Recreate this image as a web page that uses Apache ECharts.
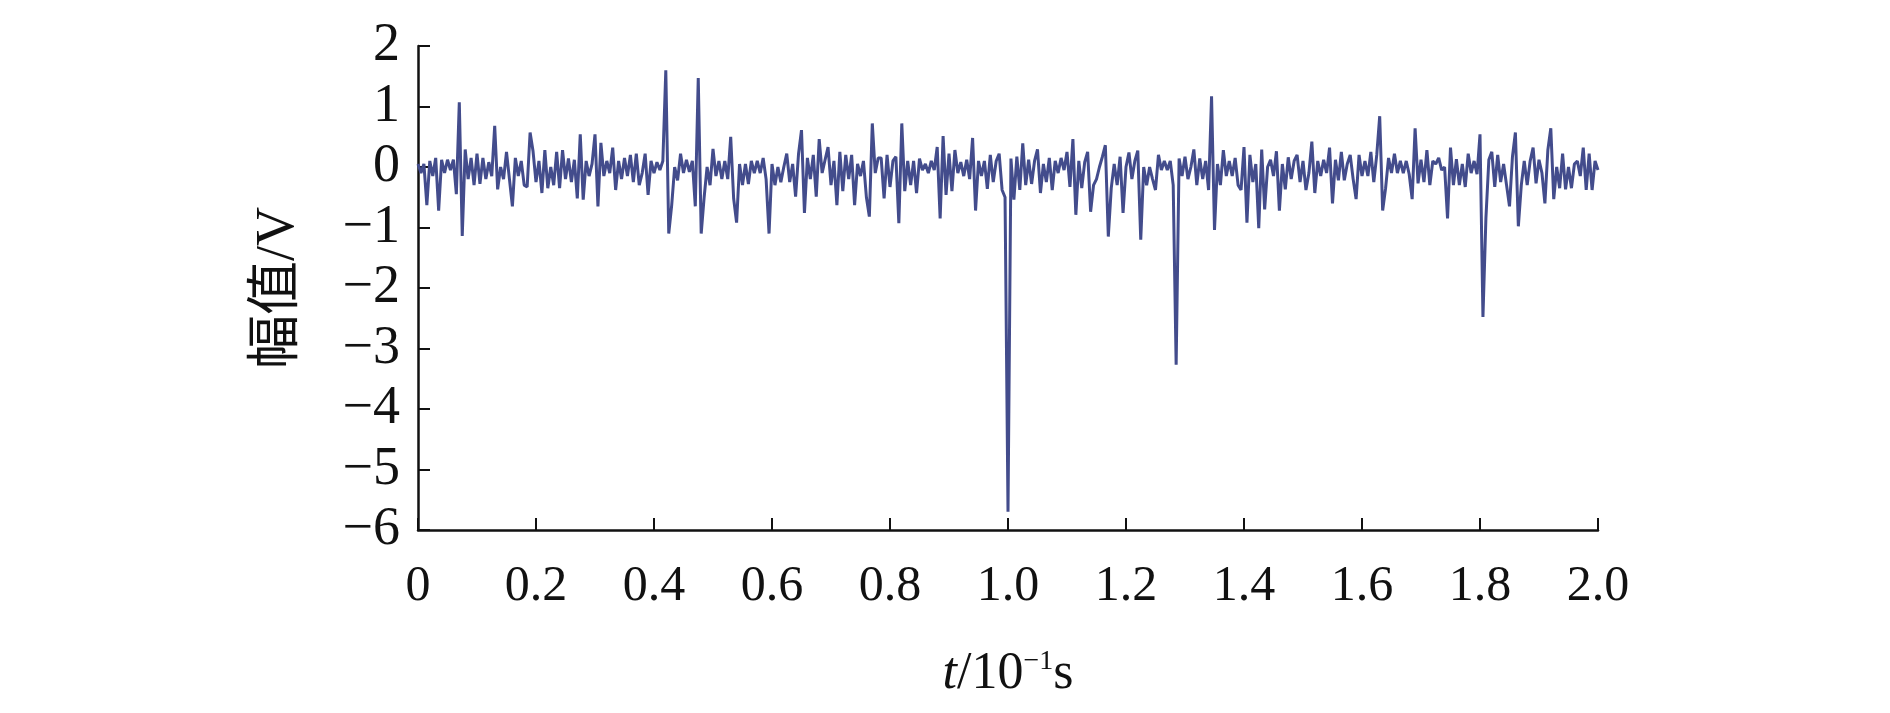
<!DOCTYPE html>
<html>
<head>
<meta charset="utf-8">
<title>幅值</title>
<script src="https://cdn.jsdelivr.net/npm/echarts@6/dist/echarts.min.js"></script>
<style>
  html, body { margin: 0; padding: 0; background: #fff; }
  #signal { width: 1890px; height: 713px; }
</style>
</head>
<body>
<div id="signal"></div>
<script>
// sample step, in units of 10^-1 s
const dt = 0.005
// amplitude in V, one value per sample
const amp = [
  0.05, -0.1, 0.05, -0.63, 0.1, -0.15, 0.15, -0.72, 0.12, -0.1,
  0.12, -0.05, 0.12, -0.45, 1.07, -1.14, 0.29, -0.2, 0.15, -0.3,
  0.22, -0.28, 0.15, -0.2, 0.08, -0.15, 0.68, -0.37, 0.0, -0.2,
  0.25, -0.2, -0.65, 0.15, -0.15, 0.1, -0.3, -0.33, 0.57, 0.26,
  -0.25, 0.1, -0.43, 0.28, -0.35, 0.0, -0.3, 0.25, -0.35, 0.28,
  -0.2, 0.14, -0.25, 0.12, -0.52, 0.54, -0.54, 0.1, -0.15, 0.05,
  0.54, -0.65, 0.4, -0.15, 0.1, -0.1, 0.32, -0.38, 0.1, -0.2,
  0.15, -0.15, 0.2, -0.25, 0.22, -0.3, -0.1, 0.22, -0.46, 0.1,
  -0.1, 0.08, -0.05, 0.1, 1.6, -1.1, -0.63, 0.0, -0.22, 0.22,
  -0.1, 0.12, -0.08, 0.1, -0.65, 1.47, -1.1, -0.5, 0.0, -0.3,
  0.3, -0.15, 0.1, -0.2, 0.1, -0.2, 0.5, -0.52, -0.92, 0.05,
  -0.3, 0.05, -0.28, 0.1, -0.1, 0.1, -0.1, 0.15, -0.2, -1.1,
  0.05, -0.3, 0.0, -0.25, 0.0, 0.22, -0.25, 0.05, -0.49, 0.22,
  0.61, -0.76, 0.15, -0.2, 0.2, -0.49, 0.46, -0.1, 0.12, 0.33,
  -0.3, 0.1, -0.63, 0.25, -0.4, 0.2, -0.2, 0.2, -0.63, 0.05,
  -0.15, 0.1, -0.5, -0.82, 0.72, -0.1, 0.15, 0.15, -0.52, 0.2,
  -0.33, 0.1, 0.17, -0.93, 0.72, -0.4, 0.1, -0.3, 0.1, -0.43,
  0.14, -0.05, 0.05, -0.1, 0.1, -0.05, 0.33, -0.85, 0.51, -0.46,
  0.22, -0.4, 0.28, -0.1, 0.08, -0.15, 0.12, -0.2, 0.48, -0.72,
  0.1, -0.15, 0.1, -0.36, 0.2, -0.25, 0.1, 0.22, -0.38, -0.5,
  -5.7, 0.14, -0.54, 0.17, -0.38, 0.39, -0.3, 0.12, -0.28, 0.1,
  0.29, -0.43, 0.05, -0.25, 0.15, -0.38, 0.1, -0.1, 0.15, -0.05,
  0.25, -0.33, 0.46, -0.79, 0.1, -0.35, 0.08, 0.25, -0.74, -0.3,
  -0.2, 0.0, 0.17, 0.36, -1.15, -0.35, 0.05, -0.3, 0.17, -0.76,
  0.0, 0.24, -0.2, 0.1, 0.27, -1.2, 0.0, -0.3, 0.0, -0.2,
  -0.38, 0.2, -0.05, 0.1, -0.05, 0.1, -0.3, -3.27, 0.14, -0.15,
  0.17, -0.2, 0.0, 0.29, -0.3, 0.14, -0.2, 0.1, -0.38, 1.17,
  -1.04, 0.05, -0.3, 0.28, -0.15, 0.1, -0.15, 0.15, -0.3, -0.38,
  0.33, -0.92, 0.2, -0.25, 0.05, -1.01, 0.29, -0.7, 0.0, 0.12,
  -0.15, 0.26, -0.72, 0.05, -0.37, 0.16, -0.2, 0.1, 0.2, -0.25,
  0.1, -0.38, -0.1, 0.42, -0.43, 0.1, -0.15, 0.12, -0.1, 0.32,
  -0.6, 0.12, -0.22, 0.25, -0.22, 0.05, 0.2, -0.2, -0.53, 0.2,
  -0.15, 0.1, -0.15, 0.25, -0.25, 0.2, 0.84, -0.72, -0.35, 0.15,
  -0.1, 0.22, -0.1, 0.1, -0.1, 0.1, -0.12, -0.53, 0.64, -0.27,
  0.12, -0.25, 0.28, -0.3, 0.1, 0.05, 0.15, -0.05, 0.0, -0.85,
  0.32, -0.3, 0.13, -0.3, 0.05, -0.33, 0.22, -0.1, 0.1, -0.12,
  0.54, -2.48, -0.85, 0.12, 0.25, -0.33, 0.2, -0.25, 0.05, -0.3,
  -0.65, 0.17, 0.57, -0.98, -0.3, 0.1, -0.3, 0.1, 0.32, -0.27,
  0.12, -0.1, -0.6, 0.28, 0.64, -0.53, 0.0, -0.35, 0.22, -0.37,
  0.0, -0.35, 0.05, 0.1, -0.15, 0.32, -0.38, 0.22, -0.38, 0.1,
  -0.05
]
const yTicks = { min: -6, max: 2, step: 1 }
const xTicks = { min: 0, max: 2, step: 0.2 }

let chartDom = document.getElementById('signal')
let myChart = echarts.init(chartDom)

const serif = "'Liberation Serif', 'Times New Roman', 'Noto Sans CJK SC', serif"

let option = {
  animation: false,
  backgroundColor: '#ffffff',
  grid: {
    left: 418,
    right: 292,
    top: 46,
    bottom: 183
  },
  xAxis: {
    type: 'value',
    min: xTicks.min,
    max: xTicks.max,
    interval: xTicks.step,
    name: '{it|t}/10{sup|−1}s',
    nameLocation: 'middle',
    nameGap: 118,
    nameTextStyle: {
      color: '#111',
      fontFamily: serif,
      fontSize: 52,
      rich: {
        it: { fontFamily: serif, fontSize: 52, fontStyle: 'italic', color: '#111' },
        sup: { fontFamily: serif, fontSize: 28, color: '#111', verticalAlign: 'top', padding: [0, 0, 22, 0] }
      }
    },
    axisLine: { onZero: false, lineStyle: { color: '#111', width: 2.5 } },
    axisTick: { inside: true, length: 12, lineStyle: { color: '#111', width: 2 } },
    axisLabel: {
      margin: 32,
      color: '#111',
      fontFamily: serif,
      fontSize: 50,
      formatter: v => (v === 0 ? '0' : v.toFixed(1))
    },
    splitLine: { show: false }
  },
  yAxis: {
    type: 'value',
    min: yTicks.min,
    max: yTicks.max,
    interval: yTicks.step,
    name: '幅值/V',
    nameLocation: 'middle',
    nameRotate: 90,
    nameGap: 112,
    nameTextStyle: {
      color: '#111',
      fontFamily: serif,
      fontSize: 54
    },
    axisLine: { show: true, onZero: false, lineStyle: { color: '#111', width: 2.5 } },
    axisTick: { show: true, inside: true, length: 12, lineStyle: { color: '#111', width: 2 } },
    axisLabel: {
      margin: 18,
      color: '#111',
      fontFamily: serif,
      fontSize: 54,
      formatter: v => String(v).replace('-', '−')
    },
    splitLine: { show: false }
  },
  series: [
    {
      type: 'line',
      data: amp.map((v, i) => [i * dt, v]),
      showSymbol: false,
      symbol: 'none',
      lineStyle: { color: '#434c8c', width: 3 },
      emphasis: { disabled: true }
    }
  ]
}
myChart.setOption(option)

window.addEventListener('resize', () => {
  myChart.resize()
})
</script>
</body>
</html>
